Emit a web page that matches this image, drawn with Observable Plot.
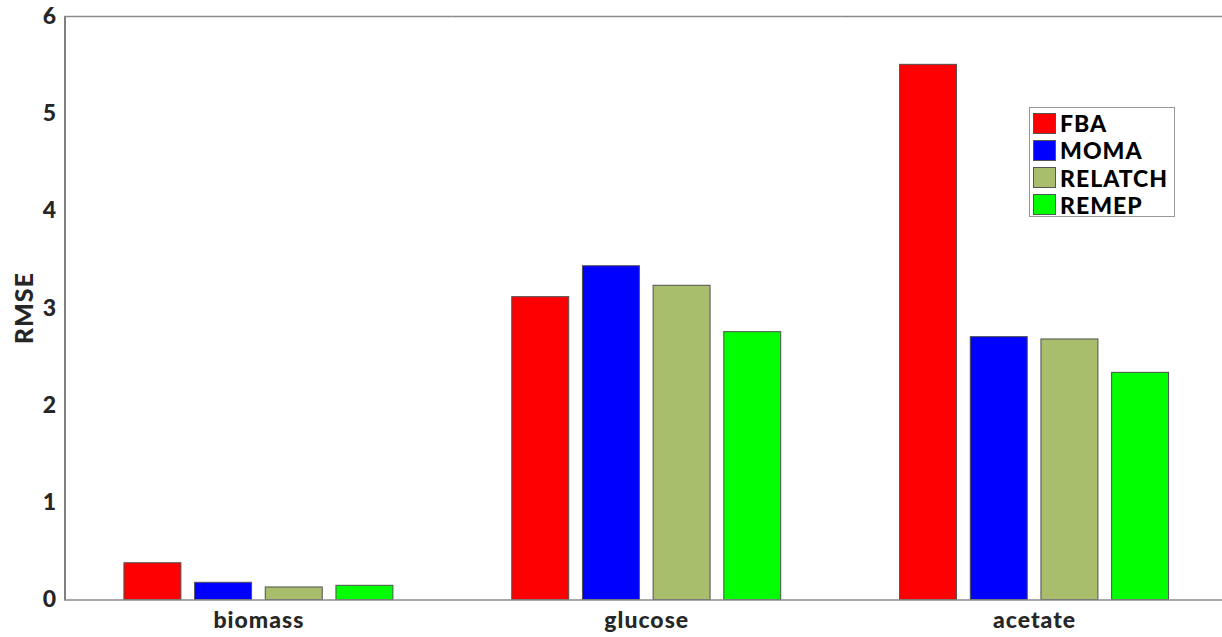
<!DOCTYPE html>
<html>
<head>
<meta charset="utf-8">
<script src="https://cdn.jsdelivr.net/npm/d3@7"></script>
<script src="https://cdn.jsdelivr.net/npm/@observablehq/plot@0.6"></script>
<style>
  html, body { margin: 0; padding: 0; background: #fff; overflow: hidden; }
  #wrap { position: relative; width: 1222px; height: 637px; }
  #chart svg { font-family: Lato, "Open Sans", sans-serif; font-weight: 900; }
  #chart svg [aria-label="y-axis tick label"] { font-size: 23px; fill: #262626; }
  #chart svg [aria-label="fx-axis tick label"] { font-size: 23px; fill: #262626; letter-spacing: 1px; }
  #chart svg [aria-label="y-axis label"] { font-size: 25px; fill: #262626; letter-spacing: 1px; }
  #legend {
    position: absolute; left: 1029px; top: 107px; width: 144px; height: 108px;
    border: 1.5px solid #999; background: #fff; box-sizing: content-box;
    font-family: Lato, "Open Sans", sans-serif; font-weight: 900; font-size: 23px; color: #000;
    letter-spacing: 1px;
  }
  .row { position: absolute; left: 3px; height: 22px; display: flex; align-items: center; }
  .sw { width: 21px; height: 19px; border: 1px solid #555; margin-right: 4px; }
</style>
</head>
<body>
<div id="wrap">
  <div id="chart"></div>
  <div id="legend"></div>
</div>
<script>
const categories = ["biomass", "glucose", "acetate"];
const methods = ["FBA", "MOMA", "RELATCH", "REMEP"];
const fba = [0.378, 3.114, 5.503];
const moma = [0.177, 3.432, 2.703];
const relatch = [0.129, 3.231, 2.679];
const remep = [0.146, 2.754, 2.336];
const colors = ["#ff0000", "#0000ff", "#a8be6c", "#00ff00"];
const yTicks = [0, 1, 2, 3, 4, 5, 6];

const series = [fba, moma, relatch, remep];
const data = [];
categories.forEach((c, i) => methods.forEach((m, j) => data.push({cat: c, method: m, value: series[j][i]})));

const chart = Plot.plot({
  width: 1222,
  height: 637,
  marginLeft: 64.5,
  marginRight: -6,
  marginTop: 16,
  marginBottom: 37.5,
  fx: {domain: categories, padding: 0, round: false, label: null, tickSize: 0, tickPadding: 12},
  x: {domain: methods, paddingInner: 0.194, paddingOuter: 0.841, round: false, axis: null},
  y: {domain: [0, 6], ticks: yTicks, tickFormat: d3.format("d"), tickSize: 0, tickPadding: 9,
      label: "RMSE", labelAnchor: "center", labelOffset: 50, labelArrow: "none", line: true},
  color: {domain: methods, range: colors},
  marks: [
    Plot.barY(data, {fx: "cat", x: "method", y: "value", fill: "method", stroke: "#505050", strokeWidth: 1}),
    Plot.ruleY([0, 6], {stroke: "#8a8a8a", strokeWidth: 1.5})
  ]
});
document.getElementById("chart").appendChild(chart);

const legend = document.getElementById("legend");
methods.forEach((m, j) => {
  const row = document.createElement("div");
  row.className = "row";
  row.style.top = (4 + j * 27.3) + "px";
  const sw = document.createElement("div");
  sw.className = "sw";
  sw.style.background = colors[j];
  const t = document.createElement("span");
  t.textContent = m;
  row.appendChild(sw);
  row.appendChild(t);
  legend.appendChild(row);
});
</script>
</body>
</html>
